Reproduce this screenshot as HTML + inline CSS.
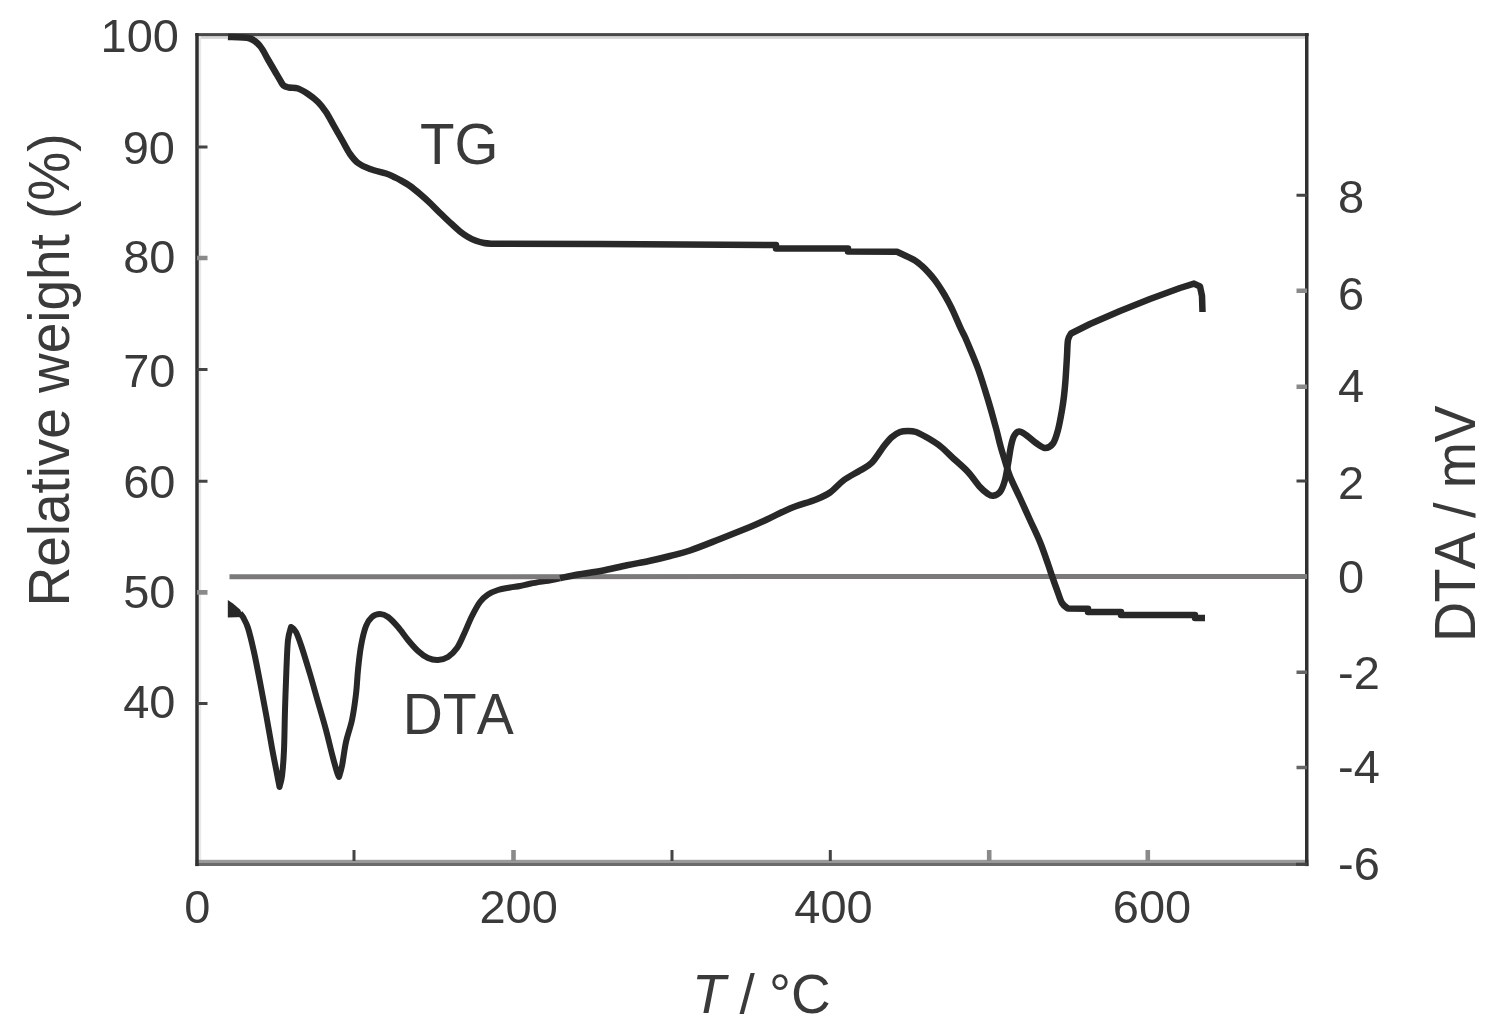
<!DOCTYPE html>
<html lang="en">
<head>
<meta charset="utf-8">
<title>TG / DTA curves</title>
<style>
html,body{margin:0;padding:0;background:#fff;}
body{width:1490px;height:1031px;overflow:hidden;}
svg{display:block;filter:blur(0.6px);}
</style>
</head>
<body>
<svg width="1490" height="1031" viewBox="0 0 1490 1031">
<rect x="0" y="0" width="1490" height="1031" fill="#ffffff"/>
<rect x="198.4" y="36" width="1106.6" height="2.9" fill="#d6d6d6"/>
<rect x="198.4" y="36" width="2.8" height="824" fill="#e8e8e8"/>
<rect x="195.25" y="33.1" width="1113.5" height="3" fill="#484848"/>
<rect x="195.4" y="859.8" width="1113.2" height="3.1" fill="#9a9a9a"/>
<rect x="195.4" y="862.8" width="1113.2" height="3.2" fill="#6a6a6a"/>
<rect x="195.25" y="33.1" width="3.5" height="833" fill="#303030"/>
<rect x="1305.0" y="33.1" width="3.5" height="833" fill="#303030"/>
<path d="M1307,672.3 h-10.5 M1307,767.5 h-10.5" stroke="#666" stroke-width="3.6" fill="none"/>
<path d="M197,147 h10.5 M197,369.5 h10.5 M197,481.2 h10.5 M197,703.4 h10.5 M354,861 v-11 M672,861 v-11 M830.3,861 v-11 M1307,864.3 h-11 M1307,195.3 h-10.5 M1307,481 h-10.5" stroke="#444" stroke-width="3" fill="none"/>
<path d="M197,258 h10.5 M197,592.4 h10.5 M513.5,861 v-11 M989.2,861 v-11 M1147.8,861 v-11 M1307,290.8 h-10.5 M1307,386.7 h-10.5" stroke="#8a8a8a" stroke-width="4.6" fill="none"/>
<path d="M240.0,613.0 L243.0,617.0 L243.0,617.0 C243.8,618.8 246.2,622.2 248.0,628.0 C249.8,633.8 252.0,643.0 254.0,652.0 C256.0,661.0 258.0,671.7 260.0,682.0 C262.0,692.3 264.0,703.0 266.0,714.0 C268.0,725.0 270.2,738.0 272.0,748.0 C273.8,758.0 275.8,767.5 277.0,774.0 C278.2,780.5 279.1,784.8 279.5,787.0 L279.5,787.0 C279.9,785.2 281.2,782.2 282.0,776.0 C282.8,769.8 283.5,761.0 284.0,750.0 C284.5,739.0 284.6,723.3 285.0,710.0 C285.4,696.7 285.9,681.7 286.4,670.0 C286.9,658.3 287.2,647.2 288.0,640.0 C288.8,632.8 290.5,629.2 291.0,627.0 L291.0,627.0 C291.8,627.8 294.2,628.5 296.0,632.0 C297.8,635.5 299.7,641.0 302.0,648.0 C304.3,655.0 307.3,665.0 310.0,674.0 C312.7,683.0 315.3,692.7 318.0,702.0 C320.7,711.3 323.7,721.3 326.0,730.0 C328.3,738.7 330.2,747.0 332.0,754.0 C333.8,761.0 335.8,768.2 337.0,772.0 C338.2,775.8 338.7,776.2 339.0,777.0 L339.0,777.0 C339.5,775.2 340.8,771.8 342.0,766.0 C343.2,760.2 344.3,749.7 346.0,742.0 C347.7,734.3 350.3,728.0 352.0,720.0 C353.7,712.0 355.0,702.3 356.0,694.0 C357.0,685.7 357.2,678.0 358.0,670.0 C358.8,662.0 359.7,653.3 361.0,646.0 C362.3,638.7 364.2,630.8 366.0,626.0 C367.8,621.2 369.7,619.0 372.0,617.0 C374.3,615.0 377.3,614.0 380.0,614.0 C382.7,614.0 385.0,614.8 388.0,617.0 C391.0,619.2 394.7,623.2 398.0,627.0 C401.3,630.8 404.7,636.0 408.0,640.0 C411.3,644.0 414.7,648.0 418.0,651.0 C421.3,654.0 424.7,656.5 428.0,658.0 C431.3,659.5 434.7,660.2 438.0,660.0 C441.3,659.8 444.8,659.0 448.0,657.0 C451.2,655.0 454.3,651.8 457.0,648.0 C459.7,644.2 461.5,639.3 464.0,634.0 C466.5,628.7 469.3,621.3 472.0,616.0 C474.7,610.7 477.3,605.6 480.0,602.0 C482.7,598.4 485.0,596.5 488.0,594.5 C491.0,592.5 494.3,591.2 498.0,590.0 C501.7,588.8 506.3,588.2 510.0,587.5 C513.7,586.8 516.5,586.7 520.0,586.0 C523.5,585.3 525.7,584.5 531.0,583.5 C536.3,582.5 547.2,580.9 552.0,580.0 C556.8,579.1 558.7,578.5 560.0,578.2" fill="none" stroke="#282828" stroke-width="6.0" stroke-linejoin="round"/>
<line x1="229.5" y1="576.7" x2="1307" y2="576.5" stroke="#7b7979" stroke-width="5"/>
<path d="M228.0,37.0 C231.7,37.2 244.7,37.0 250.0,38.5 C255.3,40.0 257.0,42.5 260.0,46.0 C263.0,49.5 265.5,55.2 268.0,59.5 C270.5,63.8 273.0,68.1 275.0,71.5 C277.0,74.9 278.6,77.7 280.0,80.0 C281.4,82.3 282.0,84.2 283.5,85.5 C285.0,86.8 286.6,87.0 289.0,87.5 C291.4,88.0 294.8,87.4 298.0,88.5 C301.2,89.6 304.7,91.8 308.0,94.0 C311.3,96.2 315.0,99.0 318.0,102.0 C321.0,105.0 323.3,108.0 326.0,112.0 C328.7,116.0 331.3,121.3 334.0,126.0 C336.7,130.7 339.3,135.3 342.0,140.0 C344.7,144.7 347.3,150.2 350.0,154.0 C352.7,157.8 354.7,160.5 358.0,163.0 C361.3,165.5 365.3,167.2 370.0,169.0 C374.7,170.8 382.0,172.2 386.0,173.5 C390.0,174.8 391.7,175.9 394.0,177.0 C396.3,178.1 397.3,178.5 400.0,180.0 C402.7,181.5 406.7,183.7 410.0,186.0 C413.3,188.3 416.7,191.2 420.0,194.0 C423.3,196.8 426.7,199.8 430.0,203.0 C433.3,206.2 436.7,209.8 440.0,213.0 C443.3,216.2 446.7,219.4 450.0,222.5 C453.3,225.6 457.0,229.1 460.0,231.5 C463.0,233.9 465.3,235.4 468.0,237.0 C470.7,238.6 473.3,239.8 476.0,240.8 C478.7,241.8 481.3,242.5 484.0,243.0 C486.7,243.5 490.7,243.7 492.0,243.8  L600.0,244.0 L776.0,245.0 L776.0,248.4 L848.0,248.4 L848.0,251.6 L897.0,251.8 L897.0,251.8 C898.3,252.4 902.0,254.1 905.0,255.5 C908.0,256.9 912.2,258.8 915.0,260.5 C917.8,262.2 919.8,264.1 922.0,266.0 C924.2,267.9 926.0,269.8 928.0,272.0 C930.0,274.2 932.2,276.7 934.0,279.0 C935.8,281.3 937.3,283.5 939.0,286.0 C940.7,288.5 942.3,291.2 944.0,294.0 C945.7,296.8 947.5,300.2 949.0,303.0 C950.5,305.8 951.7,308.2 953.0,311.0 C954.3,313.8 955.7,317.0 957.0,320.0 C958.3,323.0 959.7,326.2 961.0,329.0 C962.3,331.8 963.4,333.5 965.0,337.0 C966.6,340.5 968.2,344.5 970.5,350.0 C972.8,355.5 976.1,363.3 978.5,370.0 C980.9,376.7 982.9,383.3 985.0,390.0 C987.1,396.7 989.1,403.3 991.0,410.0 C992.9,416.7 994.9,424.0 996.5,430.0 C998.1,436.0 999.1,440.8 1000.5,446.0 C1001.9,451.2 1003.4,455.9 1005.0,461.0 C1006.6,466.1 1007.5,470.3 1010.0,476.5 C1012.5,482.7 1016.7,490.8 1020.0,498.0 C1023.3,505.2 1026.7,512.7 1030.0,520.0 C1033.3,527.3 1037.0,534.7 1040.0,542.0 C1043.0,549.3 1046.0,558.3 1048.0,564.0 C1050.0,569.7 1050.5,571.7 1052.0,576.0 C1053.5,580.3 1055.3,585.5 1057.0,590.0 C1058.7,594.5 1060.2,599.9 1062.0,603.0 C1063.8,606.1 1067.0,607.7 1068.0,608.6 L1088.0,608.8 L1088.0,612.0 L1121.0,612.0 L1121.0,615.0 L1195.0,615.0 L1195.0,618.0 L1205.0,618.0" fill="none" stroke="#282828" stroke-width="6.5" stroke-linejoin="round"/>
<path d="M560.0,578.2 C563.0,577.6 571.0,575.7 578.0,574.5 C585.0,573.3 593.8,572.3 602.0,570.8 C610.2,569.2 619.2,566.8 627.0,565.2 C634.8,563.6 641.8,562.5 649.0,561.0 C656.2,559.5 663.2,557.8 670.0,556.0 C676.8,554.2 681.7,553.3 690.0,550.5 C698.3,547.7 710.0,542.9 720.0,539.0 C730.0,535.1 742.0,530.3 750.0,527.0 C758.0,523.7 761.3,522.1 768.0,519.0 C774.7,515.9 782.0,511.8 790.0,508.5 C798.0,505.2 809.3,502.2 816.0,499.5 C822.7,496.8 825.3,495.8 830.0,492.5 C834.7,489.2 839.0,483.7 844.0,480.0 C849.0,476.3 855.3,473.4 860.0,470.5 C864.7,467.6 868.0,466.6 872.0,462.5 C876.0,458.4 880.7,450.2 884.0,446.0 C887.3,441.8 889.3,439.3 892.0,437.0 C894.7,434.7 897.3,433.0 900.0,432.0 C902.7,431.0 905.3,431.0 908.0,431.0 C910.7,431.0 913.0,431.0 916.0,432.0 C919.0,433.0 922.0,434.7 926.0,437.0 C930.0,439.3 935.3,442.3 940.0,446.0 C944.7,449.7 949.3,454.7 954.0,459.0 C958.7,463.3 963.7,467.3 968.0,472.0 C972.3,476.7 976.7,483.3 980.0,487.0 C983.3,490.7 985.8,492.5 988.0,494.0 C990.2,495.5 991.0,496.1 993.0,495.8 C995.0,495.5 998.0,494.6 1000.0,492.0 C1002.0,489.4 1003.7,484.7 1005.0,480.0 C1006.3,475.3 1007.0,469.7 1008.0,464.0 C1009.0,458.3 1010.0,450.7 1011.0,446.0 C1012.0,441.3 1012.7,438.4 1014.0,436.0 C1015.3,433.6 1017.0,431.7 1019.0,431.5 C1021.0,431.3 1023.2,433.1 1026.0,435.0 C1028.8,436.9 1032.8,440.8 1036.0,443.0 C1039.2,445.2 1042.2,447.9 1045.0,448.0 C1047.8,448.1 1050.8,446.5 1053.0,443.5 C1055.2,440.5 1056.5,435.6 1058.0,430.0 C1059.5,424.4 1061.0,415.7 1062.0,410.0 C1063.0,404.3 1063.4,401.0 1064.0,396.0 C1064.6,391.0 1065.0,386.7 1065.5,380.0 C1066.0,373.3 1066.6,362.7 1067.0,356.0 C1067.4,349.3 1067.3,343.8 1068.0,340.0 C1068.7,336.2 1070.5,334.6 1071.0,333.5 L1090.0,324.0 L1120.0,311.0 L1150.0,299.0 L1180.0,288.0 L1194.0,283.6 L1200.0,286.5 L1202.0,296.0 L1202.5,312.0" fill="none" stroke="#282828" stroke-width="6.5" stroke-linejoin="round"/>
<polygon points="227.8,600 227.8,617.6 244,617 240,609.5 233,603.5" fill="#282828"/>
<g font-family="'Liberation Sans', sans-serif" style="font-kerning:none" fill="#3a3a3a">
<text x="179" y="51.5" font-size="47" text-anchor="end">100</text>
<text x="175" y="163.5" font-size="47" text-anchor="end">90</text>
<text x="175.5" y="273" font-size="47" text-anchor="end">80</text>
<text x="175.5" y="386.5" font-size="47" text-anchor="end">70</text>
<text x="175.5" y="498" font-size="47" text-anchor="end">60</text>
<text x="175.5" y="608" font-size="47" text-anchor="end">50</text>
<text x="175.5" y="717.5" font-size="47" text-anchor="end">40</text>
<text x="1338" y="212.5" font-size="47" text-anchor="start">8</text>
<text x="1338" y="309.5" font-size="47" text-anchor="start">6</text>
<text x="1338" y="402" font-size="47" text-anchor="start">4</text>
<text x="1338" y="498.8" font-size="47" text-anchor="start">2</text>
<text x="1338" y="593.3" font-size="47" text-anchor="start">0</text>
<text x="1338" y="689" font-size="47" text-anchor="start">-2</text>
<text x="1338" y="782.5" font-size="47" text-anchor="start">-4</text>
<text x="1338" y="880.3" font-size="47" text-anchor="start">-6</text>
<text x="197.3" y="923.3" font-size="47" text-anchor="middle">0</text>
<text x="518.6" y="923.3" font-size="47" text-anchor="middle">200</text>
<text x="833.5" y="923.3" font-size="47" text-anchor="middle">400</text>
<text x="1152" y="923.3" font-size="47" text-anchor="middle">600</text>
<text y="1012.5" font-size="55"><tspan x="692" font-style="italic">T</tspan> <tspan x="739.5">/</tspan> <tspan x="769">°C</tspan></text>
<text transform="translate(68.5,606.5) rotate(-90) scale(1,1.03)" font-size="55" textLength="473" lengthAdjust="spacing">Relative weight (%)</text>
<text transform="translate(1475,642) rotate(-90) scale(1,1.05)" font-size="55.5" textLength="236.5" lengthAdjust="spacing">DTA / mV</text>
<text x="420" y="164" font-size="56.5">TG</text>
<text transform="translate(402.8,733.8) scale(1,1.05)" font-size="55.5">DTA</text>
</g>
</svg>
</body>
</html>
